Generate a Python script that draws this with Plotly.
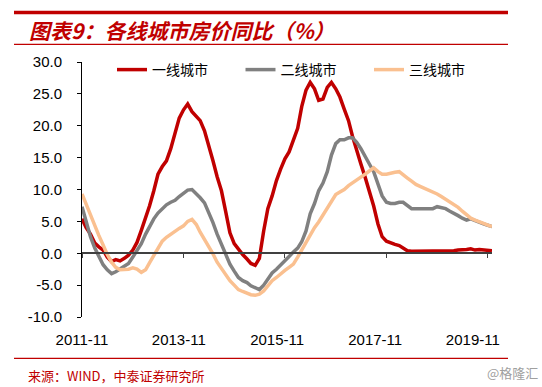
import pandas as pd
import plotly.graph_objects as go

# ---------------- data (monthly, 2011-11 .. 2019-12) ----------------
start_month = "2011-11-01"
n_months = 98

tier1 = [5.4, 4.0, 3.0, 1.6, 1.0, 0.5, -0.6, -1.3, -1.0, -1.2,
         -0.8, -0.3, 0.5, 1.7, 3.6, 5.4, 7.4, 9.8, 12.4, 13.6,
         14.5, 16.4, 18.8, 21.2, 22.5, 23.4, 22.2, 21.5, 20.8, 19.2,
         17.0, 14.5, 12.0, 9.8, 6.5, 3.2, 1.5, 0.6, -0.2, -0.9,
         -1.6, -1.9, -0.8, 3.5, 7.0, 9.0, 11.4, 13.2, 14.8, 15.9,
         17.8, 19.6, 23.0, 25.6, 26.8, 25.8, 24.0, 24.2, 26.0, 26.8,
         25.8, 24.5, 22.6, 20.8, 18.4, 16.0, 14.0, 11.9, 9.7, 7.4,
         4.6, 2.6, 1.9, 1.6, 1.4, 1.2, 0.8, 0.4, 0.3, 0.3,
         0.3, 0.3, 0.3, 0.3, 0.3, 0.3, 0.4, 0.4, 0.4, 0.5,
         0.5, 0.6, 0.7, 0.5, 0.6, 0.5, 0.5, 0.4]

tier2 = [7.3, 4.8, 2.6, 0.8, -0.6, -1.8, -2.6, -3.2, -2.9, -2.5,
         -2.1, -1.6, -0.6, 0.5, 1.5, 3.0, 4.2, 5.4, 6.3, 7.0,
         7.6, 8.0, 8.3, 8.9, 9.4, 9.9, 10.0, 9.4, 8.7, 7.9,
         6.4, 4.8, 3.0, 1.5, 0.0, -1.7, -2.8, -3.8, -4.3, -4.6,
         -5.1, -5.4, -5.7, -5.0, -4.0, -3.1, -2.5, -1.9, -1.2, -0.5,
         0.2, 0.8, 1.8, 3.5, 6.2, 7.8, 9.8, 11.0, 12.8, 15.4,
         17.2, 17.8, 17.8, 18.1, 18.1, 17.4, 16.4, 15.3, 14.0, 12.8,
         10.9, 9.0, 8.0, 7.8, 7.8, 8.0, 8.0, 7.4, 7.0, 7.0,
         7.0, 7.0, 7.0, 7.0, 7.3, 7.2, 7.0, 6.6, 6.2, 5.9,
         5.5, 5.2, 5.4, 5.1, 4.9, 4.6, 4.4, 4.2]

tier3 = [9.3, 7.6, 6.0, 4.3, 2.8, 1.3, -0.2, -1.4, -2.2, -2.6,
         -2.6, -2.5, -2.3, -2.5, -3.0, -2.6, -1.5, -0.3, 0.9, 1.9,
         2.5, 3.0, 3.5, 3.9, 4.3, 5.0, 5.3, 4.5, 3.3, 2.2,
         1.0, -0.1, -1.4, -2.4, -3.4, -4.3, -5.0, -5.7, -6.0, -6.3,
         -6.5, -6.6, -6.4, -5.9, -5.0, -4.3, -3.8, -3.2, -2.7, -2.2,
         -1.7, -0.6, 0.5, 1.6, 3.0, 4.0, 4.9, 6.0, 7.0, 8.2,
         9.2, 9.6, 10.0, 10.6, 11.0, 11.4, 11.9, 12.4, 12.9, 13.4,
         12.8, 12.4, 12.4, 12.6, 12.7, 12.8, 12.4, 11.8, 11.3, 10.8,
         10.5, 10.2, 10.0, 9.7, 9.3, 8.9, 8.5, 8.0, 7.6, 7.2,
         6.6, 6.0, 5.5, 5.2, 5.0, 4.7, 4.4, 4.2]

series_names = ["一线城市", "二线城市", "三线城市"]

tick_dates = ["2011-11-01", "2013-11-01", "2015-11-01", "2017-11-01", "2019-11-01"]
tick_labels = ["2011-11", "2013-11", "2015-11", "2017-11", "2019-11"]
# where the reference prints the labels (slightly left of the tick marks)
label_pos = ["2011-11-01", "2013-09-28", "2015-09-06", "2017-08-12", "2019-07-16"]

y_tick_vals = [-10, -5, 0, 5, 10, 15, 20, 25, 30]
y_tick_text = ["-10.0", "-5.0", "0.0", "5.0", "10.0", "15.0", "20.0", "25.0", "30.0"]

title_text = "图表9：各线城市房价同比（%）"
source_text = "来源：WIND，中泰证券研究所"
watermark_text = "@格隆汇"

# ---------------- figure ----------------
dates = pd.date_range(start_month, periods=n_months, freq="MS")
colors = ["#C00000", "#808080", "#FAC090"]

fig = go.Figure()
for name, vals, col in zip(series_names, [tier1, tier2, tier3], colors):
    fig.add_trace(go.Scatter(x=dates, y=vals, mode="lines", name=name,
                             line=dict(color=col, width=3.5)))

W, H = 542, 387
L, R, T, B = 82, 50, 62, 70
pw, ph = W - L - R, H - T - B

def px(x):
    return (x - L) / pw

def py(y):
    return (H - B - y) / ph

x_range = [dates[0], dates[-1]]
tick_font = dict(family="Liberation Sans, Arial", size=15, color="#000000")

fig.update_layout(
    width=W, height=H,
    margin=dict(l=L, r=R, t=T, b=B),
    paper_bgcolor="white", plot_bgcolor="white",
    showlegend=True,
    legend=dict(orientation="h", x=px(112), xanchor="left", y=py(70), yanchor="middle",
                font=dict(family="Noto Sans CJK SC", size=14, color="#000000"),
                bgcolor="rgba(0,0,0,0)", entrywidth=83.5, entrywidthmode="pixels",
                itemwidth=30, tracegroupgap=0),
    xaxis=dict(type="date", range=x_range, showgrid=False, zeroline=False,
               showline=False, ticks="", tickvals=label_pos, ticktext=tick_labels,
               tickfont=tick_font, ticklabelstandoff=12),
    xaxis2=dict(type="date", range=x_range, overlaying="x", anchor="free", position=py(252.7),
                showgrid=False, zeroline=False, showline=True, linecolor="#404040",
                linewidth=1.5, ticks="outside", ticklen=5, tickcolor="#404040",
                tickvals=tick_dates, showticklabels=False),
    yaxis=dict(range=[-10, 30], tickvals=y_tick_vals, ticktext=y_tick_text,
               showgrid=False, zeroline=False, showline=True, linecolor="#000000",
               linewidth=1, ticks="outside", ticklen=4, tickcolor="#000000",
               tickfont=tick_font, ticklabelstandoff=12),
)

# invisible trace to keep xaxis2 active
fig.add_trace(go.Scatter(x=[dates[0]], y=[0], xaxis="x2", mode="markers",
                         marker=dict(opacity=0), showlegend=False, hoverinfo="skip"))

red = "#C00000"
fig.add_shape(type="line", xref="paper", yref="paper", x0=px(14), x1=px(508),
              y0=py(12.5), y1=py(12.5), line=dict(color=red, width=3.5))
fig.add_shape(type="line", xref="paper", yref="paper", x0=px(14), x1=px(508),
              y0=py(44.3), y1=py(44.3), line=dict(color=red, width=1.2))
fig.add_shape(type="line", xref="paper", yref="paper", x0=px(14), x1=px(508),
              y0=py(358.3), y1=py(358.3), line=dict(color=red, width=1.2))

fig.add_annotation(text=title_text, xref="paper", yref="paper", x=px(27), y=py(30),
                   xanchor="left", yanchor="middle", showarrow=False,
                   font=dict(family="Noto Sans CJK SC", size=21, color=red,
                             weight="bold", style="italic"))
fig.add_annotation(text=source_text, xref="paper", yref="paper", x=px(26), y=py(375),
                   xanchor="left", yanchor="middle", showarrow=False,
                   font=dict(family="Noto Sans CJK SC", size=13, color=red))
fig.add_annotation(text=watermark_text, xref="paper", yref="paper", x=px(540), y=py(372),
                   xanchor="right", yanchor="middle", showarrow=False,
                   font=dict(family="Noto Sans CJK SC", size=13, color="#A0A0A0"))

fig.write_html("out.html", config={"displayModeBar": False},
               post_script="document.body.style.margin='0';document.body.style.padding='0';")
